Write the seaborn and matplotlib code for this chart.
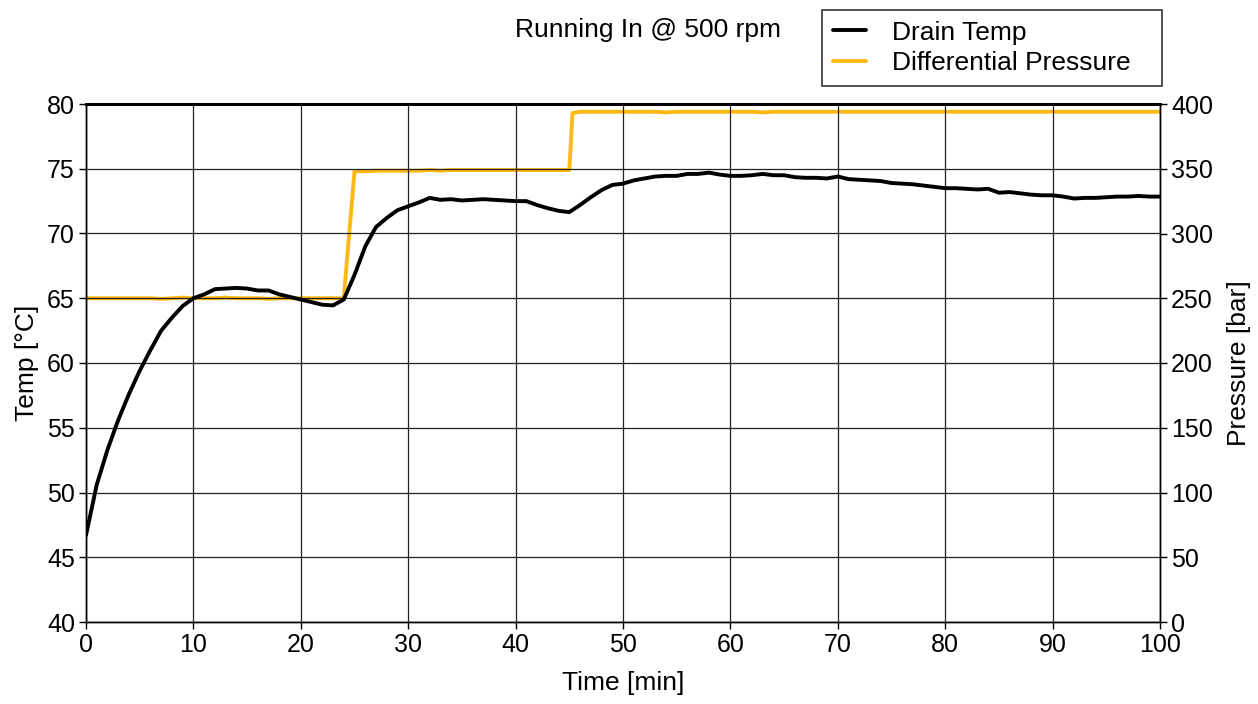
import matplotlib
matplotlib.use("Agg")
import matplotlib.pyplot as plt
import seaborn as sns
import pandas as pd
from matplotlib.lines import Line2D

time_min = list(range(0, 101))
drain_temp = [
    46.7, 50.6, 53.3, 55.6, 57.6, 59.4, 61.0, 62.5, 63.5, 64.4,
    65.0, 65.3, 65.7, 65.75, 65.8, 65.75, 65.6, 65.6, 65.3, 65.1,
    64.9, 64.7, 64.5, 64.45, 64.9, 66.8, 69.0, 70.5, 71.2, 71.8,
    72.1, 72.4, 72.75, 72.6, 72.65, 72.55, 72.6, 72.65, 72.6, 72.55,
    72.5, 72.5, 72.2, 71.95, 71.75, 71.65, 72.2, 72.8, 73.35, 73.75,
    73.85, 74.1, 74.25, 74.4, 74.45, 74.45, 74.6, 74.6, 74.7, 74.55,
    74.45, 74.45, 74.5, 74.6, 74.5, 74.5, 74.35, 74.3, 74.3, 74.25,
    74.4, 74.2, 74.15, 74.1, 74.05, 73.9, 73.85, 73.8, 73.7, 73.6,
    73.5, 73.5, 73.45, 73.4, 73.45, 73.15, 73.2, 73.1, 73.0, 72.95,
    72.95, 72.85, 72.7, 72.75, 72.75, 72.8, 72.85, 72.85, 72.9, 72.85,
    72.85,
]
pressure_time = list(range(0, 46)) + [45.3] + list(range(46, 101))
diff_pressure = (
    [250, 250, 250, 250, 250, 250, 250, 249.5, 250, 250.5,
     250, 250, 250, 250.5, 250, 250, 250, 249.5, 250, 250,
     250, 250, 250, 250, 250]
    + [348, 348, 348.5, 348.5, 348.5, 348.5, 348.5, 349, 348.5, 349,
       349, 349, 349, 349, 349, 349, 349, 349, 349, 349, 349]
    + [393, 394, 394, 394, 394, 394, 394, 394, 394, 393.5, 394,
       394, 394, 394, 394, 394, 394, 394, 393.5, 394, 394,
       394, 394, 394, 394, 394, 394, 394, 394, 394, 394,
       394, 394, 394, 394, 394, 394, 394, 394, 394, 394,
       394, 394, 394, 394, 394, 394, 394, 394, 394, 394,
       394, 394, 394, 394, 394]
)
x_ticks = list(range(0, 101, 10))
temp_ticks = list(range(40, 81, 5))
pressure_ticks = list(range(0, 401, 50))

df_t = pd.DataFrame({"time": time_min, "temp": drain_temp})
df_p = pd.DataFrame({"time": pressure_time, "pressure": diff_pressure})

sns.set_theme(style="white")
plt.rcParams["font.family"] = ["Liberation Sans", "DejaVu Sans"]
plt.rcParams["text.color"] = "black"
plt.rcParams["axes.labelcolor"] = "black"

fig = plt.figure(figsize=(12.58, 7.04), dpi=100)
ax = fig.add_axes([86 / 1258, 1 - 622 / 704, (1160 - 86) / 1258, (622 - 104) / 704])
ax2 = ax.twinx()

orange = "#FDB913"
sns.lineplot(data=df_p, x="time", y="pressure", ax=ax2, color=orange, linewidth=2.8,
             legend=False, sort=False, estimator=None)
sns.lineplot(data=df_t, x="time", y="temp", ax=ax, color="black", linewidth=2.8, legend=False)

ax.set_zorder(ax2.get_zorder() + 1)
ax.patch.set_visible(False)

ax.set_xlim(0, 100)
ax.set_ylim(40, 80)
ax2.set_ylim(0, 400)
ax.set_xticks(x_ticks)
ax.set_yticks(temp_ticks)
ax2.set_yticks(pressure_ticks)

ax.grid(True, color="#222222", linewidth=0.9)
ax2.grid(False)

for a in (ax, ax2):
    for s in a.spines.values():
        s.set_color("black")
        s.set_linewidth(1.0)
    a.tick_params(axis="both", direction="out", length=5, width=1, color="black",
                  labelsize=18, labelcolor="black", pad=3)
ax.spines["top"].set_linewidth(2.0)
ax2.spines["top"].set_linewidth(2.0)
ax.tick_params(axis="x", bottom=True)
ax.tick_params(axis="y", left=True)
ax2.tick_params(axis="y", right=True)

ax.set_xlabel("Time [min]", fontsize=19, labelpad=10)
ax.set_ylabel("Temp [°C]", fontsize=19, labelpad=6)
ax2.set_ylabel("Pressure [bar]", fontsize=19, labelpad=10)

fig.text(648 / 1258, 1 - 30 / 704, "Running In @ 500 rpm", ha="center", va="center", fontsize=19)

handles = [Line2D([0], [0], color="black", lw=2.8), Line2D([0], [0], color=orange, lw=2.8)]
leg = fig.legend(handles, ["Drain Temp", "Differential Pressure"],
                 loc="upper left", mode="expand",
                 bbox_to_anchor=(822 / 1258, 1 - 84 / 704, 340 / 1258, 74 / 704),
                 fontsize=19, frameon=True, fancybox=False, handlelength=1.25,
                 borderpad=0.4, labelspacing=0.25, handletextpad=1.0, borderaxespad=0)
leg.get_frame().set_edgecolor("black")
leg.get_frame().set_linewidth(1.2)

fig.savefig("out.png", dpi=100)
